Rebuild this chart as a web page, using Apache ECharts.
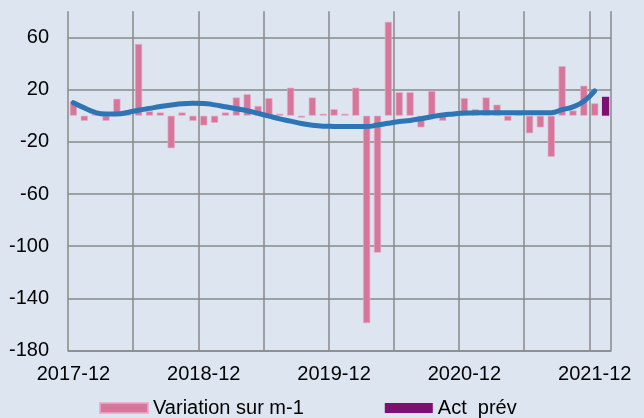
<!DOCTYPE html>
<html>
<head>
<meta charset="utf-8">
<script src="https://cdn.jsdelivr.net/npm/echarts@6/dist/echarts.min.js"></script>
<style>
html,body{margin:0;padding:0;background:#dce5f0;}
#c{width:644px;height:418px;}
</style>
</head>
<body>
<div id="c"></div>
<script>
var months = (function(){
  var out = [];
  var y = 2017, m = 12;
  for (var k = 0; k < 50; k++) {
    out.push(y + '-' + (m < 10 ? '0' + m : m));
    m++; if (m > 12) { m = 1; y++; }
  }
  return out;
})();

var variation = [11, -4, 1, -4, 13, 1, 55, 3.5, 2.5, -25, 2.5, -4,
  -7.5, -5.5, 2.5, 14, 16.5, 7.5, 13.5, 1.5, 21.5, -1.5, 14, 1.5,
  5, 1.5, 21.5, -159, -105, 72, 18, 18, -9, 19, -4, 1,
  13.5, 5, 14, 8.5, -4, 1, -13.5, -9, -31.5, 38, 4, 23,
  9.5, null];

var actPrev = [null, null, null, null, null, null, null, null, null, null, null, null,
  null, null, null, null, null, null, null, null, null, null, null, null,
  null, null, null, null, null, null, null, null, null, null, null, null,
  null, null, null, null, null, null, null, null, null, null, null, null,
  null, 14.5];

var trend = [10, 6, 2.5, 1.3, 1.3, 2.5, 4.2, 5.6, 7, 8.2, 9.2, 9.5,
  9.4, 8.3, 6.8, 5.3, 3.8, 1.8, -0.3, -2.4, -4.2, -6, -7.3, -8,
  -8.2, -8.3, -8.3, -8.3, -7.2, -5.8, -4.4, -3.6, -2.3, -0.8, 0.5, 1.3,
  2, 2.2, 2.3, 2.3, 2.3, 2.3, 2.3, 2.3, 2.3, 4.6, 6.8, 11,
  19, null];

var yTicks = {min: -180, max: 80, interval: 40};

var chart = echarts.init(document.getElementById('c'), null, {renderer: 'canvas'});
var font = 'Liberation Sans, Arial, sans-serif';
chart.setOption({
  backgroundColor: '#dce5f0',
  animation: false,
  textStyle: {fontFamily: font},
  grid: {left: 68, right: 33, top: 11.3, bottom: 67.4, containLabel: false},
  legend: {
    left: 94, top: 393,
    itemWidth: 48, itemHeight: 10, itemGap: 81,
    icon: 'rect',
    textStyle: {fontSize: 20, color: '#000', fontFamily: font},
    data: ['Variation sur m-1', 'Act  prév']
  },
  xAxis: {
    type: 'category',
    data: months,
    boundaryGap: true,
    axisLine: {show: true, onZero: false, lineStyle: {color: '#8a8a8a', width: 1.5}},
    axisTick: {show: false},
    axisLabel: {interval: 11, fontSize: 20, color: '#000', margin: 14, fontFamily: font},
    splitLine: {
      show: true,
      interval: function (index) { return index % 6 === 0 && index < 50; },
      lineStyle: {color: '#8a8a8a', width: 1.5}
    }
  },
  yAxis: {
    type: 'value',
    min: yTicks.min, max: yTicks.max, interval: yTicks.interval,
    axisLine: {show: false},
    axisTick: {show: false},
    axisLabel: {fontSize: 20, color: '#000', margin: 19, showMaxLabel: false, fontFamily: font},
    splitLine: {show: true, showMaxLine: false, lineStyle: {color: '#8a8a8a', width: 1.5}}
  },
  series: [
    {
      name: 'Variation sur m-1', type: 'bar', data: variation,
      barCategoryGap: '33%', barGap: '-100%',
      itemStyle: {color: '#d5769a', borderColor: 'rgba(236,170,198,0.8)', borderWidth: 0.8}
    },
    {
      name: 'Act  prév', type: 'bar', data: actPrev,
      barCategoryGap: '33%', barGap: '-100%',
      itemStyle: {color: '#7d1172'}
    },
    {
      name: 'Tendance', type: 'line', data: trend,
      smooth: true, symbol: 'none',
      lineStyle: {color: '#2e75b6', width: 5, cap: 'round', join: 'round'},
      itemStyle: {color: '#2e75b6'}
    }
  ]
});
</script>
</body>
</html>
